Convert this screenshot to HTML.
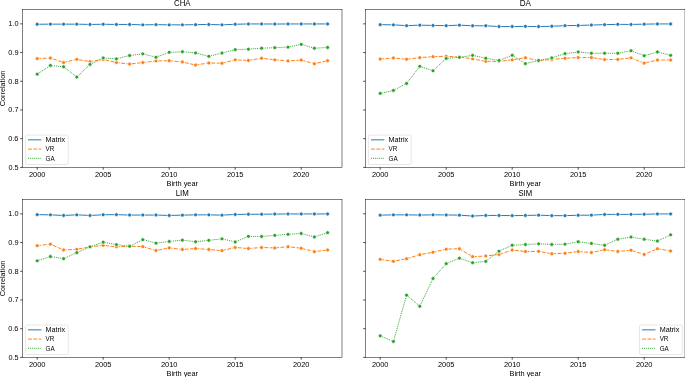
<!DOCTYPE html>
<html><head><meta charset="utf-8"><title>Correlation by birth year</title>
<style>
html,body{margin:0;padding:0;background:#fff;}
body{width:685px;height:377px;overflow:hidden;}
svg{display:block;font-family:"Liberation Sans", sans-serif;fill:#000;will-change:transform;}
svg text{fill:#000;}
</style></head><body>
<svg width="685" height="377" viewBox="0 0 685 377"><g clip-path="url(#c00)"><polyline points="37.2,24.25 50.4,24.15 63.6,24.15 76.8,24.15 90,24.45 103.2,24.25 116.4,24.45 129.6,24.45 142.8,24.85 156,24.65 169.2,24.85 182.4,24.85 195.6,24.65 208.8,24.45 222,24.85 235.2,24.25 248.4,23.95 261.6,23.95 274.8,24.05 288,23.95 301.2,23.95 314.4,23.95 327.6,23.95" fill="none" stroke="#1f77b4" stroke-width="0.975" stroke-linejoin="round"/><g fill="#1f77b4" stroke="#fff" stroke-width="0.73"><circle cx="37.2" cy="24.25" r="1.95"/><circle cx="50.4" cy="24.15" r="1.95"/><circle cx="63.6" cy="24.15" r="1.95"/><circle cx="76.8" cy="24.15" r="1.95"/><circle cx="90" cy="24.45" r="1.95"/><circle cx="103.2" cy="24.25" r="1.95"/><circle cx="116.4" cy="24.45" r="1.95"/><circle cx="129.6" cy="24.45" r="1.95"/><circle cx="142.8" cy="24.85" r="1.95"/><circle cx="156" cy="24.65" r="1.95"/><circle cx="169.2" cy="24.85" r="1.95"/><circle cx="182.4" cy="24.85" r="1.95"/><circle cx="195.6" cy="24.65" r="1.95"/><circle cx="208.8" cy="24.45" r="1.95"/><circle cx="222" cy="24.85" r="1.95"/><circle cx="235.2" cy="24.25" r="1.95"/><circle cx="248.4" cy="23.95" r="1.95"/><circle cx="261.6" cy="23.95" r="1.95"/><circle cx="274.8" cy="24.05" r="1.95"/><circle cx="288" cy="23.95" r="1.95"/><circle cx="301.2" cy="23.95" r="1.95"/><circle cx="314.4" cy="23.95" r="1.95"/><circle cx="327.6" cy="23.95" r="1.95"/></g><polyline points="37.2,58.6 50.4,58.05 63.6,62.55 76.8,59.35 90,61.65 103.2,59.45 116.4,62.55 129.6,64.05 142.8,62.55 156,60.95 169.2,60.75 182.4,61.95 195.6,65.05 208.8,62.95 222,63.25 235.2,59.85 248.4,60.45 261.6,58.25 274.8,59.85 288,60.95 301.2,60.05 314.4,63.75 327.6,60.65" fill="none" stroke="#ff7f0e" stroke-width="0.975" stroke-dasharray="3.9 1.46" stroke-linejoin="round"/><g fill="#ff7f0e" stroke="#fff" stroke-width="0.73"><circle cx="37.2" cy="58.6" r="1.95"/><circle cx="50.4" cy="58.05" r="1.95"/><circle cx="63.6" cy="62.55" r="1.95"/><circle cx="76.8" cy="59.35" r="1.95"/><circle cx="90" cy="61.65" r="1.95"/><circle cx="103.2" cy="59.45" r="1.95"/><circle cx="116.4" cy="62.55" r="1.95"/><circle cx="129.6" cy="64.05" r="1.95"/><circle cx="142.8" cy="62.55" r="1.95"/><circle cx="156" cy="60.95" r="1.95"/><circle cx="169.2" cy="60.75" r="1.95"/><circle cx="182.4" cy="61.95" r="1.95"/><circle cx="195.6" cy="65.05" r="1.95"/><circle cx="208.8" cy="62.95" r="1.95"/><circle cx="222" cy="63.25" r="1.95"/><circle cx="235.2" cy="59.85" r="1.95"/><circle cx="248.4" cy="60.45" r="1.95"/><circle cx="261.6" cy="58.25" r="1.95"/><circle cx="274.8" cy="59.85" r="1.95"/><circle cx="288" cy="60.95" r="1.95"/><circle cx="301.2" cy="60.05" r="1.95"/><circle cx="314.4" cy="63.75" r="1.95"/><circle cx="327.6" cy="60.65" r="1.95"/></g><polyline points="37.2,74.15 50.4,65.45 63.6,66.75 76.8,77.05 90,64.45 103.2,57.95 116.4,58.85 129.6,55.55 142.8,53.85 156,57.25 169.2,52.35 182.4,51.75 195.6,52.95 208.8,56.35 222,53.05 235.2,49.65 248.4,49.15 261.6,48.25 274.8,47.65 288,47.15 301.2,44.35 314.4,48.25 327.6,47.45" fill="none" stroke="#2ca02c" stroke-width="0.975" stroke-dasharray="0.975 0.975" stroke-linejoin="round"/><g fill="#2ca02c" stroke="#fff" stroke-width="0.73"><circle cx="37.2" cy="74.15" r="1.95"/><circle cx="50.4" cy="65.45" r="1.95"/><circle cx="63.6" cy="66.75" r="1.95"/><circle cx="76.8" cy="77.05" r="1.95"/><circle cx="90" cy="64.45" r="1.95"/><circle cx="103.2" cy="57.95" r="1.95"/><circle cx="116.4" cy="58.85" r="1.95"/><circle cx="129.6" cy="55.55" r="1.95"/><circle cx="142.8" cy="53.85" r="1.95"/><circle cx="156" cy="57.25" r="1.95"/><circle cx="169.2" cy="52.35" r="1.95"/><circle cx="182.4" cy="51.75" r="1.95"/><circle cx="195.6" cy="52.95" r="1.95"/><circle cx="208.8" cy="56.35" r="1.95"/><circle cx="222" cy="53.05" r="1.95"/><circle cx="235.2" cy="49.65" r="1.95"/><circle cx="248.4" cy="49.15" r="1.95"/><circle cx="261.6" cy="48.25" r="1.95"/><circle cx="274.8" cy="47.65" r="1.95"/><circle cx="288" cy="47.15" r="1.95"/><circle cx="301.2" cy="44.35" r="1.95"/><circle cx="314.4" cy="48.25" r="1.95"/><circle cx="327.6" cy="47.45" r="1.95"/></g></g><clipPath id="c00"><rect x="22.5" y="9.5" width="319.5" height="157.9"/></clipPath><rect x="25.4" y="135.05" width="42.8" height="29.45" rx="1.4" fill="#fff" fill-opacity="0.8" stroke="#d6d6d6" stroke-width="0.6"/><line x1="28" y1="139.85" x2="41.4" y2="139.85" stroke="#1f77b4" stroke-width="0.975"/><text x="45.55" y="142.25" font-size="7.0" textLength="19.62" lengthAdjust="spacingAndGlyphs">Matrix</text><line x1="28" y1="149.08" x2="41.4" y2="149.08" stroke="#ff7f0e" stroke-width="0.975" stroke-dasharray="3.9 1.46"/><text x="45.55" y="151.48" font-size="7.0" textLength="8.75" lengthAdjust="spacingAndGlyphs">VR</text><line x1="28" y1="158.31" x2="41.4" y2="158.31" stroke="#2ca02c" stroke-width="0.975" stroke-dasharray="0.975 0.975"/><text x="45.55" y="160.71" font-size="7.0" textLength="9.09" lengthAdjust="spacingAndGlyphs">GA</text><rect x="22.5" y="9.5" width="319.5" height="157.9" fill="none" stroke="#000" stroke-width="0.5"/><line x1="37.2" y1="167.4" x2="37.2" y2="169.7" stroke="#000" stroke-width="0.7"/><text x="37.2" y="176.7" font-size="7.0" text-anchor="middle" textLength="16.59" lengthAdjust="spacingAndGlyphs">2000</text><line x1="103.2" y1="167.4" x2="103.2" y2="169.7" stroke="#000" stroke-width="0.7"/><text x="103.2" y="176.7" font-size="7.0" text-anchor="middle" textLength="16.47" lengthAdjust="spacingAndGlyphs">2005</text><line x1="169.2" y1="167.4" x2="169.2" y2="169.7" stroke="#000" stroke-width="0.7"/><text x="169.2" y="176.7" font-size="7.0" text-anchor="middle" textLength="16.59" lengthAdjust="spacingAndGlyphs">2010</text><line x1="235.2" y1="167.4" x2="235.2" y2="169.7" stroke="#000" stroke-width="0.7"/><text x="235.2" y="176.7" font-size="7.0" text-anchor="middle" textLength="16.47" lengthAdjust="spacingAndGlyphs">2015</text><line x1="301.2" y1="167.4" x2="301.2" y2="169.7" stroke="#000" stroke-width="0.7"/><text x="301.2" y="176.7" font-size="7.0" text-anchor="middle" textLength="16.59" lengthAdjust="spacingAndGlyphs">2020</text><line x1="20.2" y1="167.4" x2="22.5" y2="167.4" stroke="#000" stroke-width="0.7"/><text x="18.5" y="169.9" font-size="7.0" text-anchor="end" textLength="10.1" lengthAdjust="spacingAndGlyphs">0.5</text><line x1="20.2" y1="138.69" x2="22.5" y2="138.69" stroke="#000" stroke-width="0.7"/><text x="18.5" y="141.19" font-size="7.0" text-anchor="end" textLength="10.29" lengthAdjust="spacingAndGlyphs">0.6</text><line x1="20.2" y1="109.98" x2="22.5" y2="109.98" stroke="#000" stroke-width="0.7"/><text x="18.5" y="112.48" font-size="7.0" text-anchor="end" textLength="10.18" lengthAdjust="spacingAndGlyphs">0.7</text><line x1="20.2" y1="81.27" x2="22.5" y2="81.27" stroke="#000" stroke-width="0.7"/><text x="18.5" y="83.77" font-size="7.0" text-anchor="end" textLength="10.25" lengthAdjust="spacingAndGlyphs">0.8</text><line x1="20.2" y1="52.56" x2="22.5" y2="52.56" stroke="#000" stroke-width="0.7"/><text x="18.5" y="55.06" font-size="7.0" text-anchor="end" textLength="10.26" lengthAdjust="spacingAndGlyphs">0.9</text><line x1="20.2" y1="23.85" x2="22.5" y2="23.85" stroke="#000" stroke-width="0.7"/><text x="18.5" y="26.35" font-size="7.0" text-anchor="end" textLength="10.21" lengthAdjust="spacingAndGlyphs">1.0</text><text x="182.25" y="185.7" font-size="7.0" text-anchor="middle" textLength="31.53" lengthAdjust="spacingAndGlyphs">Birth year</text><text x="182.25" y="6" font-size="8.5" text-anchor="middle" textLength="16.56" lengthAdjust="spacingAndGlyphs">CHA</text><g transform="translate(5.3,88.45) rotate(-90)"><text x="0" y="0" font-size="7.0" text-anchor="middle" textLength="35.54" lengthAdjust="spacingAndGlyphs">Correlation</text></g><g clip-path="url(#c3430)"><polyline points="380.2,24.65 393.4,24.85 406.6,25.65 419.8,25.15 433,25.45 446.2,25.65 459.4,25.15 472.6,25.75 485.8,25.75 499,26.55 512.2,26.55 525.4,26.35 538.6,26.55 551.8,26.25 565,25.65 578.2,25.45 591.4,25.05 604.6,24.65 617.8,24.35 631,24.45 644.2,24.15 657.4,23.95 670.6,23.95" fill="none" stroke="#1f77b4" stroke-width="0.975" stroke-linejoin="round"/><g fill="#1f77b4" stroke="#fff" stroke-width="0.73"><circle cx="380.2" cy="24.65" r="1.95"/><circle cx="393.4" cy="24.85" r="1.95"/><circle cx="406.6" cy="25.65" r="1.95"/><circle cx="419.8" cy="25.15" r="1.95"/><circle cx="433" cy="25.45" r="1.95"/><circle cx="446.2" cy="25.65" r="1.95"/><circle cx="459.4" cy="25.15" r="1.95"/><circle cx="472.6" cy="25.75" r="1.95"/><circle cx="485.8" cy="25.75" r="1.95"/><circle cx="499" cy="26.55" r="1.95"/><circle cx="512.2" cy="26.55" r="1.95"/><circle cx="525.4" cy="26.35" r="1.95"/><circle cx="538.6" cy="26.55" r="1.95"/><circle cx="551.8" cy="26.25" r="1.95"/><circle cx="565" cy="25.65" r="1.95"/><circle cx="578.2" cy="25.45" r="1.95"/><circle cx="591.4" cy="25.05" r="1.95"/><circle cx="604.6" cy="24.65" r="1.95"/><circle cx="617.8" cy="24.35" r="1.95"/><circle cx="631" cy="24.45" r="1.95"/><circle cx="644.2" cy="24.15" r="1.95"/><circle cx="657.4" cy="23.95" r="1.95"/><circle cx="670.6" cy="23.95" r="1.95"/></g><polyline points="380.2,59.05 393.4,57.95 406.6,59.25 419.8,57.65 433,56.65 446.2,56.35 459.4,56.95 472.6,58.85 485.8,61.35 499,61.35 512.2,59.85 525.4,57.75 538.6,60.65 551.8,59.45 565,58.25 578.2,57.55 591.4,57.55 604.6,59.55 617.8,59.45 631,57.85 644.2,63.15 657.4,60.05 670.6,60.05" fill="none" stroke="#ff7f0e" stroke-width="0.975" stroke-dasharray="3.9 1.46" stroke-linejoin="round"/><g fill="#ff7f0e" stroke="#fff" stroke-width="0.73"><circle cx="380.2" cy="59.05" r="1.95"/><circle cx="393.4" cy="57.95" r="1.95"/><circle cx="406.6" cy="59.25" r="1.95"/><circle cx="419.8" cy="57.65" r="1.95"/><circle cx="433" cy="56.65" r="1.95"/><circle cx="446.2" cy="56.35" r="1.95"/><circle cx="459.4" cy="56.95" r="1.95"/><circle cx="472.6" cy="58.85" r="1.95"/><circle cx="485.8" cy="61.35" r="1.95"/><circle cx="499" cy="61.35" r="1.95"/><circle cx="512.2" cy="59.85" r="1.95"/><circle cx="525.4" cy="57.75" r="1.95"/><circle cx="538.6" cy="60.65" r="1.95"/><circle cx="551.8" cy="59.45" r="1.95"/><circle cx="565" cy="58.25" r="1.95"/><circle cx="578.2" cy="57.55" r="1.95"/><circle cx="591.4" cy="57.55" r="1.95"/><circle cx="604.6" cy="59.55" r="1.95"/><circle cx="617.8" cy="59.45" r="1.95"/><circle cx="631" cy="57.85" r="1.95"/><circle cx="644.2" cy="63.15" r="1.95"/><circle cx="657.4" cy="60.05" r="1.95"/><circle cx="670.6" cy="60.05" r="1.95"/></g><polyline points="380.2,93.35 393.4,90.45 406.6,83.45 419.8,66.35 433,70.75 446.2,58.45 459.4,57.35 472.6,55.35 485.8,58.25 499,60.45 512.2,55.25 525.4,63.65 538.6,60.45 551.8,57.85 565,53.65 578.2,51.95 591.4,53.25 604.6,53.25 617.8,53.25 631,50.75 644.2,55.75 657.4,51.95 670.6,55.35" fill="none" stroke="#2ca02c" stroke-width="0.975" stroke-dasharray="0.975 0.975" stroke-linejoin="round"/><g fill="#2ca02c" stroke="#fff" stroke-width="0.73"><circle cx="380.2" cy="93.35" r="1.95"/><circle cx="393.4" cy="90.45" r="1.95"/><circle cx="406.6" cy="83.45" r="1.95"/><circle cx="419.8" cy="66.35" r="1.95"/><circle cx="433" cy="70.75" r="1.95"/><circle cx="446.2" cy="58.45" r="1.95"/><circle cx="459.4" cy="57.35" r="1.95"/><circle cx="472.6" cy="55.35" r="1.95"/><circle cx="485.8" cy="58.25" r="1.95"/><circle cx="499" cy="60.45" r="1.95"/><circle cx="512.2" cy="55.25" r="1.95"/><circle cx="525.4" cy="63.65" r="1.95"/><circle cx="538.6" cy="60.45" r="1.95"/><circle cx="551.8" cy="57.85" r="1.95"/><circle cx="565" cy="53.65" r="1.95"/><circle cx="578.2" cy="51.95" r="1.95"/><circle cx="591.4" cy="53.25" r="1.95"/><circle cx="604.6" cy="53.25" r="1.95"/><circle cx="617.8" cy="53.25" r="1.95"/><circle cx="631" cy="50.75" r="1.95"/><circle cx="644.2" cy="55.75" r="1.95"/><circle cx="657.4" cy="51.95" r="1.95"/><circle cx="670.6" cy="55.35" r="1.95"/></g></g><clipPath id="c3430"><rect x="365.5" y="9.5" width="319.5" height="157.9"/></clipPath><rect x="368.4" y="135.05" width="42.8" height="29.45" rx="1.4" fill="#fff" fill-opacity="0.8" stroke="#d6d6d6" stroke-width="0.6"/><line x1="371" y1="139.85" x2="384.4" y2="139.85" stroke="#1f77b4" stroke-width="0.975"/><text x="388.55" y="142.25" font-size="7.0" textLength="19.62" lengthAdjust="spacingAndGlyphs">Matrix</text><line x1="371" y1="149.08" x2="384.4" y2="149.08" stroke="#ff7f0e" stroke-width="0.975" stroke-dasharray="3.9 1.46"/><text x="388.55" y="151.48" font-size="7.0" textLength="8.75" lengthAdjust="spacingAndGlyphs">VR</text><line x1="371" y1="158.31" x2="384.4" y2="158.31" stroke="#2ca02c" stroke-width="0.975" stroke-dasharray="0.975 0.975"/><text x="388.55" y="160.71" font-size="7.0" textLength="9.09" lengthAdjust="spacingAndGlyphs">GA</text><rect x="365.5" y="9.5" width="319.5" height="157.9" fill="none" stroke="#000" stroke-width="0.5"/><line x1="380.2" y1="167.4" x2="380.2" y2="169.7" stroke="#000" stroke-width="0.7"/><text x="380.2" y="176.7" font-size="7.0" text-anchor="middle" textLength="16.59" lengthAdjust="spacingAndGlyphs">2000</text><line x1="446.2" y1="167.4" x2="446.2" y2="169.7" stroke="#000" stroke-width="0.7"/><text x="446.2" y="176.7" font-size="7.0" text-anchor="middle" textLength="16.47" lengthAdjust="spacingAndGlyphs">2005</text><line x1="512.2" y1="167.4" x2="512.2" y2="169.7" stroke="#000" stroke-width="0.7"/><text x="512.2" y="176.7" font-size="7.0" text-anchor="middle" textLength="16.59" lengthAdjust="spacingAndGlyphs">2010</text><line x1="578.2" y1="167.4" x2="578.2" y2="169.7" stroke="#000" stroke-width="0.7"/><text x="578.2" y="176.7" font-size="7.0" text-anchor="middle" textLength="16.47" lengthAdjust="spacingAndGlyphs">2015</text><line x1="644.2" y1="167.4" x2="644.2" y2="169.7" stroke="#000" stroke-width="0.7"/><text x="644.2" y="176.7" font-size="7.0" text-anchor="middle" textLength="16.59" lengthAdjust="spacingAndGlyphs">2020</text><line x1="363.2" y1="167.4" x2="365.5" y2="167.4" stroke="#000" stroke-width="0.7"/><line x1="363.2" y1="138.69" x2="365.5" y2="138.69" stroke="#000" stroke-width="0.7"/><line x1="363.2" y1="109.98" x2="365.5" y2="109.98" stroke="#000" stroke-width="0.7"/><line x1="363.2" y1="81.27" x2="365.5" y2="81.27" stroke="#000" stroke-width="0.7"/><line x1="363.2" y1="52.56" x2="365.5" y2="52.56" stroke="#000" stroke-width="0.7"/><line x1="363.2" y1="23.85" x2="365.5" y2="23.85" stroke="#000" stroke-width="0.7"/><text x="525.25" y="185.7" font-size="7.0" text-anchor="middle" textLength="31.53" lengthAdjust="spacingAndGlyphs">Birth year</text><text x="525.25" y="6" font-size="8.5" text-anchor="middle" textLength="11.19" lengthAdjust="spacingAndGlyphs">DA</text><g clip-path="url(#c0190)"><polyline points="37.2,214.65 50.4,214.85 63.6,215.45 76.8,214.85 90,215.45 103.2,214.75 116.4,214.65 129.6,215.05 142.8,215.05 156,215.05 169.2,215.45 182.4,215.15 195.6,214.85 208.8,214.85 222,215.15 235.2,214.45 248.4,214.25 261.6,214.25 274.8,214.05 288,213.95 301.2,213.95 314.4,213.95 327.6,213.95" fill="none" stroke="#1f77b4" stroke-width="0.975" stroke-linejoin="round"/><g fill="#1f77b4" stroke="#fff" stroke-width="0.73"><circle cx="37.2" cy="214.65" r="1.95"/><circle cx="50.4" cy="214.85" r="1.95"/><circle cx="63.6" cy="215.45" r="1.95"/><circle cx="76.8" cy="214.85" r="1.95"/><circle cx="90" cy="215.45" r="1.95"/><circle cx="103.2" cy="214.75" r="1.95"/><circle cx="116.4" cy="214.65" r="1.95"/><circle cx="129.6" cy="215.05" r="1.95"/><circle cx="142.8" cy="215.05" r="1.95"/><circle cx="156" cy="215.05" r="1.95"/><circle cx="169.2" cy="215.45" r="1.95"/><circle cx="182.4" cy="215.15" r="1.95"/><circle cx="195.6" cy="214.85" r="1.95"/><circle cx="208.8" cy="214.85" r="1.95"/><circle cx="222" cy="215.15" r="1.95"/><circle cx="235.2" cy="214.45" r="1.95"/><circle cx="248.4" cy="214.25" r="1.95"/><circle cx="261.6" cy="214.25" r="1.95"/><circle cx="274.8" cy="214.05" r="1.95"/><circle cx="288" cy="213.95" r="1.95"/><circle cx="301.2" cy="213.95" r="1.95"/><circle cx="314.4" cy="213.95" r="1.95"/><circle cx="327.6" cy="213.95" r="1.95"/></g><polyline points="37.2,245.65 50.4,244.15 63.6,249.95 76.8,249.35 90,246.85 103.2,245.35 116.4,246.85 129.6,246.25 142.8,246.65 156,250.55 169.2,247.85 182.4,249.45 195.6,248.55 208.8,249.45 222,250.65 235.2,247.45 248.4,248.55 261.6,247.45 274.8,247.95 288,246.75 301.2,248.25 314.4,251.65 327.6,249.95" fill="none" stroke="#ff7f0e" stroke-width="0.975" stroke-dasharray="3.9 1.46" stroke-linejoin="round"/><g fill="#ff7f0e" stroke="#fff" stroke-width="0.73"><circle cx="37.2" cy="245.65" r="1.95"/><circle cx="50.4" cy="244.15" r="1.95"/><circle cx="63.6" cy="249.95" r="1.95"/><circle cx="76.8" cy="249.35" r="1.95"/><circle cx="90" cy="246.85" r="1.95"/><circle cx="103.2" cy="245.35" r="1.95"/><circle cx="116.4" cy="246.85" r="1.95"/><circle cx="129.6" cy="246.25" r="1.95"/><circle cx="142.8" cy="246.65" r="1.95"/><circle cx="156" cy="250.55" r="1.95"/><circle cx="169.2" cy="247.85" r="1.95"/><circle cx="182.4" cy="249.45" r="1.95"/><circle cx="195.6" cy="248.55" r="1.95"/><circle cx="208.8" cy="249.45" r="1.95"/><circle cx="222" cy="250.65" r="1.95"/><circle cx="235.2" cy="247.45" r="1.95"/><circle cx="248.4" cy="248.55" r="1.95"/><circle cx="261.6" cy="247.45" r="1.95"/><circle cx="274.8" cy="247.95" r="1.95"/><circle cx="288" cy="246.75" r="1.95"/><circle cx="301.2" cy="248.25" r="1.95"/><circle cx="314.4" cy="251.65" r="1.95"/><circle cx="327.6" cy="249.95" r="1.95"/></g><polyline points="37.2,260.85 50.4,256.55 63.6,258.65 76.8,252.65 90,246.85 103.2,242.15 116.4,244.65 129.6,246.25 142.8,239.65 156,243.15 169.2,241.45 182.4,240.15 195.6,241.75 208.8,240.35 222,238.85 235.2,241.95 248.4,236.35 261.6,236.45 274.8,235.35 288,234.35 301.2,233.45 314.4,236.95 327.6,232.65" fill="none" stroke="#2ca02c" stroke-width="0.975" stroke-dasharray="0.975 0.975" stroke-linejoin="round"/><g fill="#2ca02c" stroke="#fff" stroke-width="0.73"><circle cx="37.2" cy="260.85" r="1.95"/><circle cx="50.4" cy="256.55" r="1.95"/><circle cx="63.6" cy="258.65" r="1.95"/><circle cx="76.8" cy="252.65" r="1.95"/><circle cx="90" cy="246.85" r="1.95"/><circle cx="103.2" cy="242.15" r="1.95"/><circle cx="116.4" cy="244.65" r="1.95"/><circle cx="129.6" cy="246.25" r="1.95"/><circle cx="142.8" cy="239.65" r="1.95"/><circle cx="156" cy="243.15" r="1.95"/><circle cx="169.2" cy="241.45" r="1.95"/><circle cx="182.4" cy="240.15" r="1.95"/><circle cx="195.6" cy="241.75" r="1.95"/><circle cx="208.8" cy="240.35" r="1.95"/><circle cx="222" cy="238.85" r="1.95"/><circle cx="235.2" cy="241.95" r="1.95"/><circle cx="248.4" cy="236.35" r="1.95"/><circle cx="261.6" cy="236.45" r="1.95"/><circle cx="274.8" cy="235.35" r="1.95"/><circle cx="288" cy="234.35" r="1.95"/><circle cx="301.2" cy="233.45" r="1.95"/><circle cx="314.4" cy="236.95" r="1.95"/><circle cx="327.6" cy="232.65" r="1.95"/></g></g><clipPath id="c0190"><rect x="22.5" y="199.5" width="319.5" height="157.9"/></clipPath><rect x="25.4" y="325.05" width="42.8" height="29.45" rx="1.4" fill="#fff" fill-opacity="0.8" stroke="#d6d6d6" stroke-width="0.6"/><line x1="28" y1="329.85" x2="41.4" y2="329.85" stroke="#1f77b4" stroke-width="0.975"/><text x="45.55" y="332.25" font-size="7.0" textLength="19.62" lengthAdjust="spacingAndGlyphs">Matrix</text><line x1="28" y1="339.08" x2="41.4" y2="339.08" stroke="#ff7f0e" stroke-width="0.975" stroke-dasharray="3.9 1.46"/><text x="45.55" y="341.48" font-size="7.0" textLength="8.75" lengthAdjust="spacingAndGlyphs">VR</text><line x1="28" y1="348.31" x2="41.4" y2="348.31" stroke="#2ca02c" stroke-width="0.975" stroke-dasharray="0.975 0.975"/><text x="45.55" y="350.71" font-size="7.0" textLength="9.09" lengthAdjust="spacingAndGlyphs">GA</text><rect x="22.5" y="199.5" width="319.5" height="157.9" fill="none" stroke="#000" stroke-width="0.5"/><line x1="37.2" y1="357.4" x2="37.2" y2="359.7" stroke="#000" stroke-width="0.7"/><text x="37.2" y="366.7" font-size="7.0" text-anchor="middle" textLength="16.59" lengthAdjust="spacingAndGlyphs">2000</text><line x1="103.2" y1="357.4" x2="103.2" y2="359.7" stroke="#000" stroke-width="0.7"/><text x="103.2" y="366.7" font-size="7.0" text-anchor="middle" textLength="16.47" lengthAdjust="spacingAndGlyphs">2005</text><line x1="169.2" y1="357.4" x2="169.2" y2="359.7" stroke="#000" stroke-width="0.7"/><text x="169.2" y="366.7" font-size="7.0" text-anchor="middle" textLength="16.59" lengthAdjust="spacingAndGlyphs">2010</text><line x1="235.2" y1="357.4" x2="235.2" y2="359.7" stroke="#000" stroke-width="0.7"/><text x="235.2" y="366.7" font-size="7.0" text-anchor="middle" textLength="16.47" lengthAdjust="spacingAndGlyphs">2015</text><line x1="301.2" y1="357.4" x2="301.2" y2="359.7" stroke="#000" stroke-width="0.7"/><text x="301.2" y="366.7" font-size="7.0" text-anchor="middle" textLength="16.59" lengthAdjust="spacingAndGlyphs">2020</text><line x1="20.2" y1="357.4" x2="22.5" y2="357.4" stroke="#000" stroke-width="0.7"/><text x="18.5" y="359.9" font-size="7.0" text-anchor="end" textLength="10.1" lengthAdjust="spacingAndGlyphs">0.5</text><line x1="20.2" y1="328.69" x2="22.5" y2="328.69" stroke="#000" stroke-width="0.7"/><text x="18.5" y="331.19" font-size="7.0" text-anchor="end" textLength="10.29" lengthAdjust="spacingAndGlyphs">0.6</text><line x1="20.2" y1="299.98" x2="22.5" y2="299.98" stroke="#000" stroke-width="0.7"/><text x="18.5" y="302.48" font-size="7.0" text-anchor="end" textLength="10.18" lengthAdjust="spacingAndGlyphs">0.7</text><line x1="20.2" y1="271.27" x2="22.5" y2="271.27" stroke="#000" stroke-width="0.7"/><text x="18.5" y="273.77" font-size="7.0" text-anchor="end" textLength="10.25" lengthAdjust="spacingAndGlyphs">0.8</text><line x1="20.2" y1="242.56" x2="22.5" y2="242.56" stroke="#000" stroke-width="0.7"/><text x="18.5" y="245.06" font-size="7.0" text-anchor="end" textLength="10.26" lengthAdjust="spacingAndGlyphs">0.9</text><line x1="20.2" y1="213.85" x2="22.5" y2="213.85" stroke="#000" stroke-width="0.7"/><text x="18.5" y="216.35" font-size="7.0" text-anchor="end" textLength="10.21" lengthAdjust="spacingAndGlyphs">1.0</text><text x="182.25" y="375.7" font-size="7.0" text-anchor="middle" textLength="31.53" lengthAdjust="spacingAndGlyphs">Birth year</text><text x="182.25" y="196" font-size="8.5" text-anchor="middle" textLength="13.14" lengthAdjust="spacingAndGlyphs">LIM</text><g transform="translate(5.3,278.45) rotate(-90)"><text x="0" y="0" font-size="7.0" text-anchor="middle" textLength="35.54" lengthAdjust="spacingAndGlyphs">Correlation</text></g><g clip-path="url(#c343190)"><polyline points="380.2,215.15 393.4,214.85 406.6,214.85 419.8,215.05 433,214.85 446.2,214.95 459.4,215.15 472.6,216.05 485.8,215.45 499,215.45 512.2,215.65 525.4,215.45 538.6,215.15 551.8,215.65 565,215.65 578.2,215.25 591.4,215.15 604.6,214.45 617.8,214.35 631,214.35 644.2,214.25 657.4,213.95 670.6,213.95" fill="none" stroke="#1f77b4" stroke-width="0.975" stroke-linejoin="round"/><g fill="#1f77b4" stroke="#fff" stroke-width="0.73"><circle cx="380.2" cy="215.15" r="1.95"/><circle cx="393.4" cy="214.85" r="1.95"/><circle cx="406.6" cy="214.85" r="1.95"/><circle cx="419.8" cy="215.05" r="1.95"/><circle cx="433" cy="214.85" r="1.95"/><circle cx="446.2" cy="214.95" r="1.95"/><circle cx="459.4" cy="215.15" r="1.95"/><circle cx="472.6" cy="216.05" r="1.95"/><circle cx="485.8" cy="215.45" r="1.95"/><circle cx="499" cy="215.45" r="1.95"/><circle cx="512.2" cy="215.65" r="1.95"/><circle cx="525.4" cy="215.45" r="1.95"/><circle cx="538.6" cy="215.15" r="1.95"/><circle cx="551.8" cy="215.65" r="1.95"/><circle cx="565" cy="215.65" r="1.95"/><circle cx="578.2" cy="215.25" r="1.95"/><circle cx="591.4" cy="215.15" r="1.95"/><circle cx="604.6" cy="214.45" r="1.95"/><circle cx="617.8" cy="214.35" r="1.95"/><circle cx="631" cy="214.35" r="1.95"/><circle cx="644.2" cy="214.25" r="1.95"/><circle cx="657.4" cy="213.95" r="1.95"/><circle cx="670.6" cy="213.95" r="1.95"/></g><polyline points="380.2,259.35 393.4,261.35 406.6,258.75 419.8,254.75 433,252.25 446.2,249.15 459.4,248.75 472.6,256.65 485.8,256.05 499,254.45 512.2,250.05 525.4,251.55 538.6,251.35 551.8,253.75 565,253.25 578.2,251.55 591.4,252.55 604.6,249.75 617.8,251.45 631,250.25 644.2,254.45 657.4,248.75 670.6,250.95" fill="none" stroke="#ff7f0e" stroke-width="0.975" stroke-dasharray="3.9 1.46" stroke-linejoin="round"/><g fill="#ff7f0e" stroke="#fff" stroke-width="0.73"><circle cx="380.2" cy="259.35" r="1.95"/><circle cx="393.4" cy="261.35" r="1.95"/><circle cx="406.6" cy="258.75" r="1.95"/><circle cx="419.8" cy="254.75" r="1.95"/><circle cx="433" cy="252.25" r="1.95"/><circle cx="446.2" cy="249.15" r="1.95"/><circle cx="459.4" cy="248.75" r="1.95"/><circle cx="472.6" cy="256.65" r="1.95"/><circle cx="485.8" cy="256.05" r="1.95"/><circle cx="499" cy="254.45" r="1.95"/><circle cx="512.2" cy="250.05" r="1.95"/><circle cx="525.4" cy="251.55" r="1.95"/><circle cx="538.6" cy="251.35" r="1.95"/><circle cx="551.8" cy="253.75" r="1.95"/><circle cx="565" cy="253.25" r="1.95"/><circle cx="578.2" cy="251.55" r="1.95"/><circle cx="591.4" cy="252.55" r="1.95"/><circle cx="604.6" cy="249.75" r="1.95"/><circle cx="617.8" cy="251.45" r="1.95"/><circle cx="631" cy="250.25" r="1.95"/><circle cx="644.2" cy="254.45" r="1.95"/><circle cx="657.4" cy="248.75" r="1.95"/><circle cx="670.6" cy="250.95" r="1.95"/></g><polyline points="380.2,335.85 393.4,341.45 406.6,295.15 419.8,306.25 433,278.55 446.2,263.65 459.4,258.15 472.6,262.75 485.8,261.35 499,251.15 512.2,245.25 525.4,244.55 538.6,243.85 551.8,244.45 565,244.15 578.2,241.75 591.4,243.45 604.6,245.25 617.8,239.25 631,237.05 644.2,239.25 657.4,241.05 670.6,234.85" fill="none" stroke="#2ca02c" stroke-width="0.975" stroke-dasharray="0.975 0.975" stroke-linejoin="round"/><g fill="#2ca02c" stroke="#fff" stroke-width="0.73"><circle cx="380.2" cy="335.85" r="1.95"/><circle cx="393.4" cy="341.45" r="1.95"/><circle cx="406.6" cy="295.15" r="1.95"/><circle cx="419.8" cy="306.25" r="1.95"/><circle cx="433" cy="278.55" r="1.95"/><circle cx="446.2" cy="263.65" r="1.95"/><circle cx="459.4" cy="258.15" r="1.95"/><circle cx="472.6" cy="262.75" r="1.95"/><circle cx="485.8" cy="261.35" r="1.95"/><circle cx="499" cy="251.15" r="1.95"/><circle cx="512.2" cy="245.25" r="1.95"/><circle cx="525.4" cy="244.55" r="1.95"/><circle cx="538.6" cy="243.85" r="1.95"/><circle cx="551.8" cy="244.45" r="1.95"/><circle cx="565" cy="244.15" r="1.95"/><circle cx="578.2" cy="241.75" r="1.95"/><circle cx="591.4" cy="243.45" r="1.95"/><circle cx="604.6" cy="245.25" r="1.95"/><circle cx="617.8" cy="239.25" r="1.95"/><circle cx="631" cy="237.05" r="1.95"/><circle cx="644.2" cy="239.25" r="1.95"/><circle cx="657.4" cy="241.05" r="1.95"/><circle cx="670.6" cy="234.85" r="1.95"/></g></g><clipPath id="c343190"><rect x="365.5" y="199.5" width="319.5" height="157.9"/></clipPath><rect x="639.5" y="325.05" width="42.8" height="29.45" rx="1.4" fill="#fff" fill-opacity="0.8" stroke="#d6d6d6" stroke-width="0.6"/><line x1="642.1" y1="329.85" x2="655.5" y2="329.85" stroke="#1f77b4" stroke-width="0.975"/><text x="659.65" y="332.25" font-size="7.0" textLength="19.62" lengthAdjust="spacingAndGlyphs">Matrix</text><line x1="642.1" y1="339.08" x2="655.5" y2="339.08" stroke="#ff7f0e" stroke-width="0.975" stroke-dasharray="3.9 1.46"/><text x="659.65" y="341.48" font-size="7.0" textLength="8.75" lengthAdjust="spacingAndGlyphs">VR</text><line x1="642.1" y1="348.31" x2="655.5" y2="348.31" stroke="#2ca02c" stroke-width="0.975" stroke-dasharray="0.975 0.975"/><text x="659.65" y="350.71" font-size="7.0" textLength="9.09" lengthAdjust="spacingAndGlyphs">GA</text><rect x="365.5" y="199.5" width="319.5" height="157.9" fill="none" stroke="#000" stroke-width="0.5"/><line x1="380.2" y1="357.4" x2="380.2" y2="359.7" stroke="#000" stroke-width="0.7"/><text x="380.2" y="366.7" font-size="7.0" text-anchor="middle" textLength="16.59" lengthAdjust="spacingAndGlyphs">2000</text><line x1="446.2" y1="357.4" x2="446.2" y2="359.7" stroke="#000" stroke-width="0.7"/><text x="446.2" y="366.7" font-size="7.0" text-anchor="middle" textLength="16.47" lengthAdjust="spacingAndGlyphs">2005</text><line x1="512.2" y1="357.4" x2="512.2" y2="359.7" stroke="#000" stroke-width="0.7"/><text x="512.2" y="366.7" font-size="7.0" text-anchor="middle" textLength="16.59" lengthAdjust="spacingAndGlyphs">2010</text><line x1="578.2" y1="357.4" x2="578.2" y2="359.7" stroke="#000" stroke-width="0.7"/><text x="578.2" y="366.7" font-size="7.0" text-anchor="middle" textLength="16.47" lengthAdjust="spacingAndGlyphs">2015</text><line x1="644.2" y1="357.4" x2="644.2" y2="359.7" stroke="#000" stroke-width="0.7"/><text x="644.2" y="366.7" font-size="7.0" text-anchor="middle" textLength="16.59" lengthAdjust="spacingAndGlyphs">2020</text><line x1="363.2" y1="357.4" x2="365.5" y2="357.4" stroke="#000" stroke-width="0.7"/><line x1="363.2" y1="328.69" x2="365.5" y2="328.69" stroke="#000" stroke-width="0.7"/><line x1="363.2" y1="299.98" x2="365.5" y2="299.98" stroke="#000" stroke-width="0.7"/><line x1="363.2" y1="271.27" x2="365.5" y2="271.27" stroke="#000" stroke-width="0.7"/><line x1="363.2" y1="242.56" x2="365.5" y2="242.56" stroke="#000" stroke-width="0.7"/><line x1="363.2" y1="213.85" x2="365.5" y2="213.85" stroke="#000" stroke-width="0.7"/><text x="525.25" y="375.7" font-size="7.0" text-anchor="middle" textLength="31.53" lengthAdjust="spacingAndGlyphs">Birth year</text><text x="525.25" y="196" font-size="8.5" text-anchor="middle" textLength="13.69" lengthAdjust="spacingAndGlyphs">SIM</text></svg>
</body></html>
